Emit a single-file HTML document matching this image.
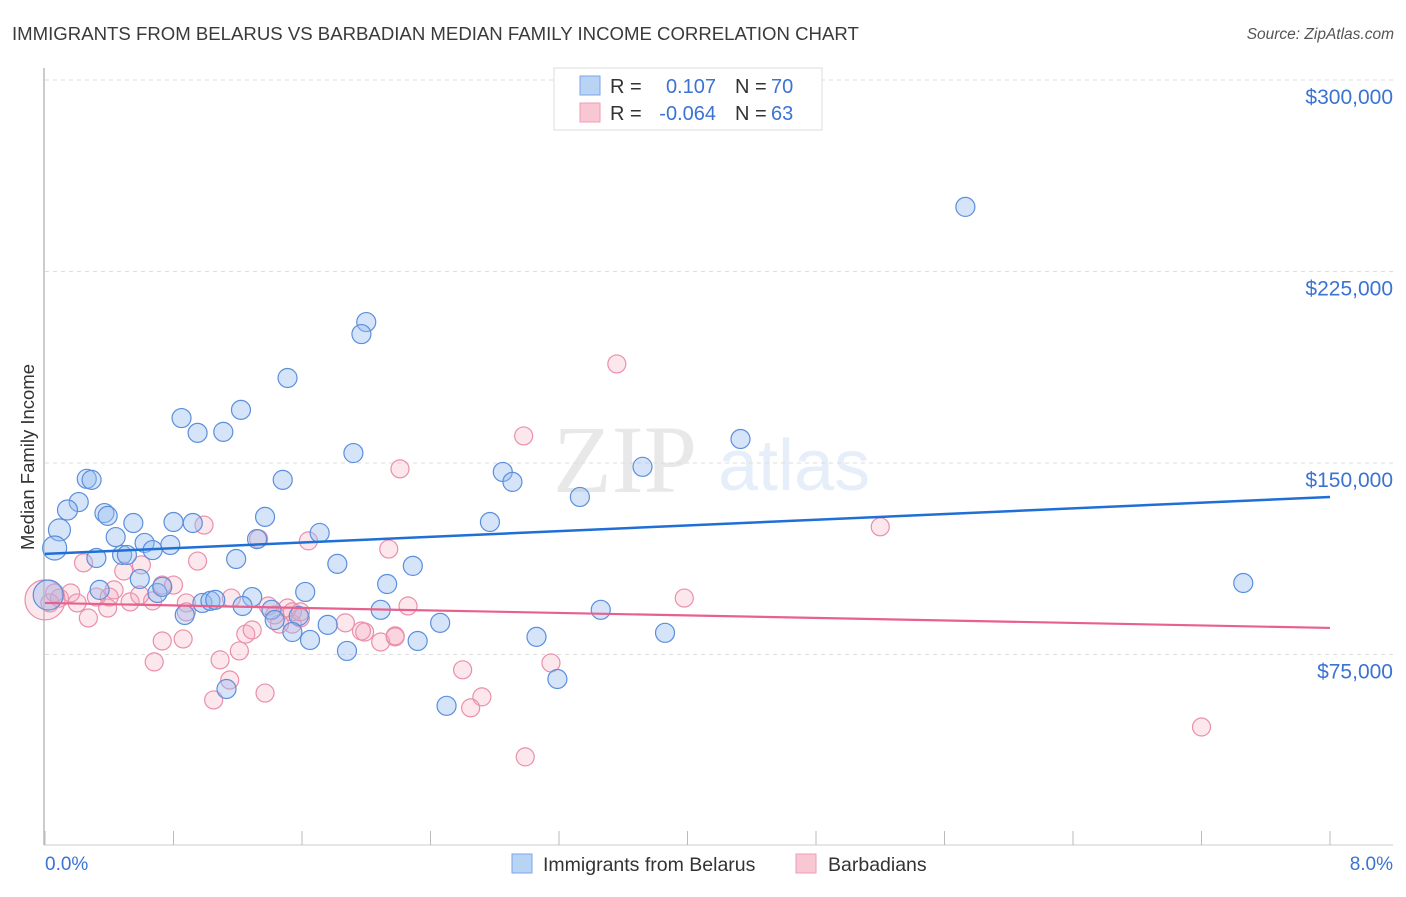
<!DOCTYPE html>
<html><head><meta charset="utf-8"><style>
body{margin:0;background:#fff;font-family:"Liberation Sans",sans-serif}
</style></head><body>
<svg width="1406" height="892" xmlns="http://www.w3.org/2000/svg" id="chart" style="font-family:'Liberation Sans',sans-serif">
<text x="12" y="40" font-size="18.6" fill="#3a3a3a">IMMIGRANTS FROM BELARUS VS BARBADIAN MEDIAN FAMILY INCOME CORRELATION CHART</text>
<text x="1394" y="39" font-size="15.5" font-style="italic" fill="#555" text-anchor="end">Source: ZipAtlas.com</text>
<g opacity="0.22">
<text x="553" y="492" font-family="'Liberation Serif',serif" font-size="96" fill="#999">ZIP</text>
<text x="718" y="490" font-size="72" fill="#8fb3e6">atlas</text>
</g>
<g id="grid"></g>
<line x1="44" y1="68" x2="44" y2="845" stroke="#bbb" stroke-width="1.5"/>
<line x1="44" y1="845" x2="1393" y2="845" stroke="#ccc" stroke-width="1"/>
<g id="xticks"></g>
<g id="pts"></g>
<g id="lines"></g>
<text transform="translate(34,457) rotate(-90)" font-size="18.5" fill="#333" text-anchor="middle">Median Family Income</text>
<text x="45" y="870" font-size="19" fill="#3b73d4">0.0%</text>
<text x="1393" y="870" font-size="19" fill="#3b73d4" text-anchor="end">8.0%</text>
<g>
<rect x="554" y="68" width="268" height="62" fill="#fff" stroke="#ddd"/>
<rect x="580" y="76" width="20" height="19" fill="#b9d3f5" stroke="#7aa6e6"/>
<rect x="580" y="103" width="20" height="19" fill="#f9c6d4" stroke="#ee9db6"/>
<text x="610" y="93" font-size="20" fill="#333">R =</text><text x="716" y="93" font-size="20" fill="#3b73d4" text-anchor="end">0.107</text>
<text x="735" y="93" font-size="20" fill="#333">N =</text><text x="771" y="93" font-size="20" fill="#3b73d4">70</text>
<text x="610" y="120" font-size="20" fill="#333">R =</text><text x="716" y="120" font-size="20" fill="#3b73d4" text-anchor="end">-0.064</text>
<text x="735" y="120" font-size="20" fill="#333">N =</text><text x="771" y="120" font-size="20" fill="#3b73d4">63</text>
</g>
<g>
<rect x="512" y="854" width="20" height="19" fill="#b9d3f5" stroke="#7aa6e6"/>
<text x="543" y="871" font-size="19.5" fill="#333">Immigrants from Belarus</text></g>
<g>
<rect x="796" y="854" width="20" height="19" fill="#f9c6d4" stroke="#ee9db6"/>
<text x="828" y="871" font-size="19.5" fill="#333">Barbadians</text></g>
</svg>
<script>
const yTicks=[75000,150000,225000,300000];
const yTickLabels=["$75,000","$150,000","$225,000","$300,000"];
const xTicks=[0,0.8,1.6,2.4,3.2,4.0,4.8,5.6,6.4,7.2,8.0];
const blueX=[5.73,2.00,1.97,1.51,1.22,0.85,0.95,1.11,4.33,1.92,3.72,2.85,0.26,0.29,1.48,2.91,0.21,3.33,0.14,0.37,0.39,1.37,0.55,0.80,0.92,2.77,0.09,1.71,1.32,0.44,0.62,0.78,0.06,0.67,0.32,0.48,0.51,1.19,1.82,2.29,0.59,2.13,1.62,7.46,0.70,0.73,1.29,0.87,0.98,1.03,1.06,1.23,1.41,1.58,2.09,3.46,1.43,1.54,1.65,1.76,2.46,3.06,3.86,2.32,1.88,3.19,1.13,2.50,0.34,0.02];
const blueY=[250300,205200,200500,183300,170800,167600,161800,162200,159400,153900,148500,146500,143800,143400,143400,142600,134700,136700,131600,130400,129300,128900,126500,126900,126500,126900,123800,122600,120200,121000,118700,117900,116700,115900,112800,114000,114000,112400,110500,109700,104600,102600,99500,103000,99100,101500,97500,90500,95200,96000,96400,94000,92500,90100,92500,92500,88500,83800,80700,86600,87400,81900,83500,80300,76400,65400,61500,54900,100300,98300];
const pinkX=[3.56,2.98,2.21,5.20,0.99,2.14,1.64,1.33,0.24,0.95,0.49,0.60,0.73,0.80,0.43,0.53,0.67,0.32,0.09,0.16,0.20,0.39,0.88,1.16,1.39,1.51,1.54,1.46,1.59,1.87,1.99,1.97,2.09,2.18,2.26,3.98,0.88,0.27,0.73,0.86,1.25,1.29,1.21,1.09,0.68,1.15,1.05,1.37,2.60,3.15,2.72,2.65,2.99,7.20,0.03,0.40,0.06,0.00,0.59,1.54,1.43,1.59,2.18];
const pinkY=[188800,160600,147700,125000,125700,116300,119500,120300,110900,111600,107700,110100,102200,102200,100300,95600,96000,97500,97100,99100,95200,93200,95200,97100,94000,93200,86900,86900,89300,87400,83800,84200,79900,82300,94000,97100,91700,89300,80300,81100,83000,84600,76400,72900,72100,65000,57200,59900,69000,71700,58400,54100,34900,46600,95200,97500,99100,96400,98300,91700,90500,91700,81900];
const blueTrend=[114400,136700];
const pinkTrend=[95200,85400];
const NS="http://www.w3.org/2000/svg";
const X=v=>45+v/8*1285;
const Y=v=>80+(300000-v)/75000*191.5;
function mk(t,a,p){const e=document.createElementNS(NS,t);for(const k in a)e.setAttribute(k,a[k]);p.appendChild(e);return e;}
const grid=document.getElementById('grid');
yTicks.forEach((t,i)=>{
  const l=mk('line',{x1:45,x2:1393,y1:Y(t),y2:Y(t),stroke:'#ddd','stroke-dasharray':'4,4'},grid);
  
  
  const tx=mk('text',{x:1393,y:Y(t)+24,'font-size':21,fill:'#3b73d4','text-anchor':'end'},grid);
  tx.textContent=yTickLabels[i];
  
  
});
const xt=document.getElementById('xticks');
xTicks.forEach(t=>{
  const l=mk('line',{x1:X(t),x2:X(t),y1:831,y2:845,stroke:'#bbb'},xt);
  
  
});
const pts=document.getElementById('pts');
pinkX.forEach((x,i)=>{
  const c=mk('circle',{cx:X(x),cy:Y(pinkY[i]),r:x<0.02?20:9,fill:'rgba(244,160,185,0.25)',stroke:'#ea8fab','stroke-width':1.2},pts);
  
  
});
blueX.forEach((x,i)=>{
  const r=x<0.05?15:x<0.07?12:x<0.1?11:x<0.15?10:9.5;
  const c=mk('circle',{cx:X(x),cy:Y(blueY[i]),r:r,fill:'rgba(150,188,240,0.4)',stroke:'#5b8fdc','stroke-width':1.2},pts);
  
  
});
const lines=document.getElementById('lines');
const bl=mk('line',{x1:X(0),x2:X(8),y1:Y(blueTrend[0]),y2:Y(blueTrend[1]),stroke:'#1f6fd6','stroke-width':2.5},lines);


const pl=mk('line',{x1:X(0),x2:X(8),y1:Y(pinkTrend[0]),y2:Y(pinkTrend[1]),stroke:'#e8608e','stroke-width':2.2},lines);


</script>
</body></html>
